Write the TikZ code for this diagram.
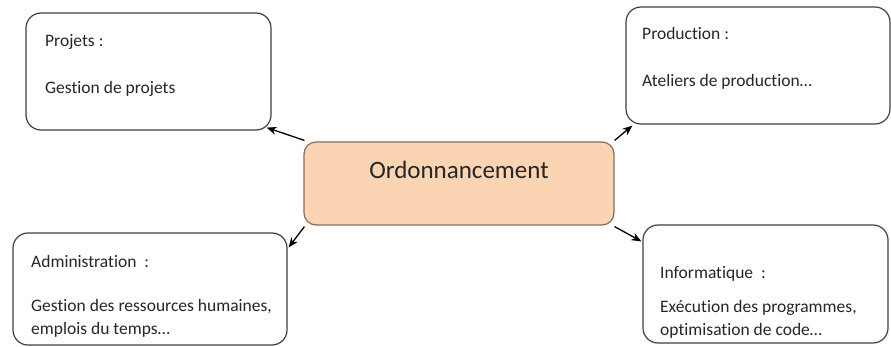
\documentclass[tikz,border=0pt]{standalone}
\usepackage{fontspec}
\setmainfont{Carlito}[Ligatures=NoCommon]
\usetikzlibrary{arrows.meta,calc}
\definecolor{boxline}{HTML}{404040}
\definecolor{peach}{HTML}{FBD4B4}
\definecolor{peachline}{HTML}{8C6B55}
\definecolor{ink}{HTML}{262626}
\tikzset{
  card/.style={draw=boxline, line width=1.2pt, rounded corners=15pt, fill=white, inner sep=0pt},
  hub/.style={draw=peachline, line width=1.2pt, rounded corners=12pt, fill=peach, inner sep=0pt},
  lbl/.style={inner sep=0pt, anchor=base west, text=ink, font=\fontsize{17.5}{22.5}\selectfont, align=left},
  link/.style={line width=1.3pt, -{Stealth[length=10pt,width=8pt]}}
}
\begin{document}
\begin{tikzpicture}[x=1pt,y=-1pt]
\useasboundingbox (0,0) rectangle (891,347);

% central box
\node[hub, minimum width=310pt, minimum height=83pt] (hub) at (459,183.5) {};
\node[inner sep=0pt, anchor=base, text=ink, font=\fontsize{25}{30}\selectfont] (hubT) at (459,179) {Ordonnancement};

% four surrounding cards
\node[card, minimum width=245pt, minimum height=117pt] (proj) at (148.5,71.5) {};
\node[card, minimum width=264pt, minimum height=117pt] (prod) at (758,65.5) {};
\node[card, minimum width=274pt, minimum height=112pt] (adm) at (150,289) {};
\node[card, minimum width=245pt, minimum height=118pt] (info) at (765.5,284) {};

% card texts (multi-line nodes are placed by their last baseline)
\node[lbl] (projA) at (45,47) {Projets :};
\node[lbl] (projB) at (45,94) {Gestion de projets};
\node[lbl] (prodA) at (642,40) {Production :};
\node[lbl] (prodB) at (642,87) {Ateliers de production\dots};
\node[lbl] (admA) at (31,268) {Administration~~:};
\node[lbl] (admB) at (31,334) {Gestion des ressources humaines,\\emplois du temps\dots};
\node[lbl] (infoA) at (660,279) {Informatique~~:};
\node[lbl] (infoB) at (660,335) {Exécution des programmes,\\optimisation de code\dots};

% connectors from the hub to each card
\draw[link] ($(hub.north west)+(1,-1)$) -- ($(proj.south east)+(-5,-3)$);
\draw[link] ($(hub.north east)+(0,-1)$) -- ($(prod.south west)+(7,1)$);
\draw[link] ($(hub.south west)+(1,1)$) -- ($(adm.north east)+(1,15)$);
\draw[link] ($(hub.south east)+(0,1)$) -- ($(info.north west)+(-1,17)$);
\end{tikzpicture}
\end{document}
